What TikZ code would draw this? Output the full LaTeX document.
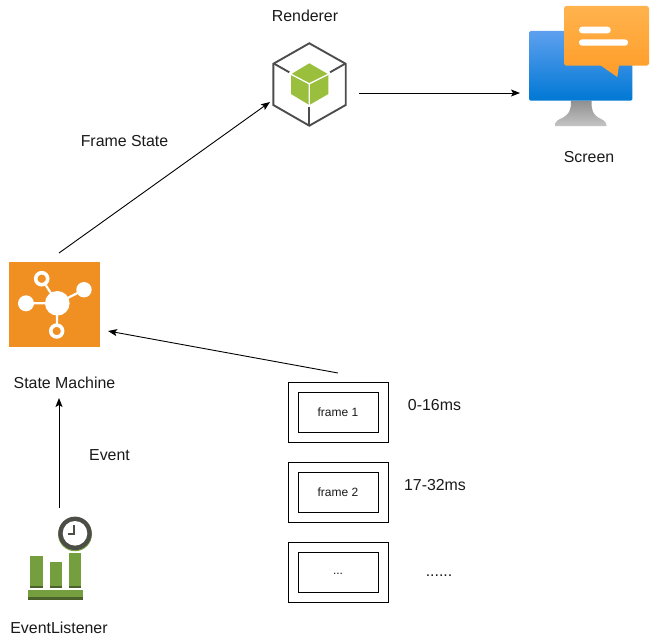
\documentclass[tikz,border=0pt]{standalone}
\usepackage{fontspec}
\setmainfont{Liberation Sans}
\usetikzlibrary{arrows.meta}
\definecolor{hexgray}{HTML}{4D4D4D}
\definecolor{cubegreen}{HTML}{9ABF3C}
\definecolor{statorange}{HTML}{F09022}
\definecolor{barlight}{HTML}{759E3F}
\definecolor{bardark}{HTML}{4B612C}
\definecolor{clockgray}{HTML}{4D4D47}
\definecolor{montop}{HTML}{5EA0EF}
\definecolor{monbot}{HTML}{0078D4}
\definecolor{bubtop}{HTML}{FFB34D}
\definecolor{bubbot}{HTML}{FFA02E}
\definecolor{standtop}{HTML}{8F8F8F}
\definecolor{standbot}{HTML}{C4C4C4}
\definecolor{inktext}{HTML}{1A1A1A}
\tikzset{
  x=1pt,y=-1pt,
  conn/.style={draw=black,line width=0.9pt,-{Stealth[length=9pt,width=7pt,inset=2pt]}},
  textlbl/.style={font=\fontsize{15.9}{18}\selectfont,inner sep=0pt,text=inktext},
  outerbox/.style={draw=black,line width=1pt,minimum width=100pt,minimum height=60pt,inner sep=0pt},
  innerbox/.style={draw=black,line width=1pt,minimum width=80pt,minimum height=40pt,inner sep=0pt,font=\fontsize{12}{14}\selectfont,text=inktext},
  iconbox/.style={inner sep=0pt},
  hexline/.style={draw=hexgray,line width=1.9pt,line join=miter},
}
\begin{document}
\begin{tikzpicture}
\useasboundingbox (0,0) rectangle (650,642);
\fill[white] (0,0) rectangle (650,642);

% Renderer icon
\node[iconbox,minimum width=72.4pt,minimum height=82.4pt] (renderer) at (309.5,84.5) {};
\draw[hexline] (309.3,43.3) -- (345.7,63.8) -- (345.7,105) -- (309.3,125.7) -- (273.3,105) -- (273.3,63.8) -- cycle;
\draw[hexline] (274.3,63.8) -- (289.3,72.3);
\draw[hexline] (345,63.8) -- (330,72.3);
\draw[hexline] (309.3,107.3) -- (309.3,125);
\fill[cubegreen] (309.3,63.3) -- (328.3,74.3) -- (328.3,94) -- (309.3,105) -- (291,94) -- (291,74.3) -- cycle;
\draw[white,line width=1.3pt] (291,74.3) -- (309.3,83.8) -- (328.3,74.3) (309.3,83.8) -- (309.3,105);

% Screen icon
\node[iconbox,minimum width=120pt,minimum height=120pt] (screen) at (589,66) {};
\shade[top color=standtop,bottom color=standbot] (571,100.7) .. controls (571.5,108) and (570,115) .. (560,119) .. controls (556,121) and (555,123) .. (555,126) -- (606.7,126) .. controls (606.7,123) and (605,121) .. (601,119) .. controls (592,115) and (591,108) .. (591.7,100.7) -- cycle;
\shade[top color=montop,bottom color=monbot,rounded corners=1.5pt] (529,31) rectangle (632.3,100.7);
\shade[top color=bubtop,bottom color=bubbot,rounded corners=2.5pt] (564,6) rectangle (649,65.7);
\fill[bubbot] (600,65) -- (617.3,77) -- (619,65) -- cycle;
\fill[white,rounded corners=3pt] (579,26.7) rectangle (610.7,33.3);
\fill[white,rounded corners=3pt] (579,39.3) rectangle (628,45.7);

% State Machine icon
\node[iconbox,fill=statorange,minimum width=91pt,minimum height=84.7pt] (state) at (54.8,304.7) {};
\draw[white,line width=2.2pt] (57.3,303.3) -- (26,303.3) (57.3,303.3) -- (84,289.7) (57.3,303.3) -- (41.7,278.7) (57.3,303.3) -- (56.7,331);
\fill[white] (57.3,303.3) circle[radius=12.3pt];
\fill[white] (26,303.3) circle[radius=8pt];
\fill[white] (84,289.7) circle[radius=7.7pt];
\draw[white,fill=statorange,line width=3.6pt] (41.7,278.7) circle[radius=6pt];
\draw[white,fill=statorange,line width=3.6pt] (56.7,331) circle[radius=5.9pt];

% EventListener icon
\node[iconbox,minimum width=55pt,minimum height=83pt] (listener) at (55.8,558) {};
\fill[barlight] (30.3,556) rectangle (42.7,588.3);
\fill[barlight] (49.7,561.7) rectangle (62,588.3);
\fill[barlight] (69,552.7) rectangle (81,588.3);
\fill[bardark] (30.3,585.7) rectangle (42.7,588.3);
\fill[bardark] (49.7,585.7) rectangle (62,588.3);
\fill[bardark] (69,585.7) rectangle (81,588.3);
\fill[barlight] (28.3,590) rectangle (83.3,597);
\fill[bardark] (28.3,596.5) rectangle (83.3,600);
\fill[white] (75,534.5) circle[radius=17.5pt];
\fill[barlight] (75,534.3) circle[radius=16.9pt];
\fill[clockgray] (75,533.3) circle[radius=16.7pt];
\fill[white] (75,533.3) circle[radius=12.3pt];
\draw[clockgray,line width=2pt] (74.3,525) -- (74.3,534) -- (68.3,534);

% Frame boxes
\node[outerbox] (outer1) at (338,412.5) {};
\node[innerbox] (frame1) at (338,412.5) {frame 1};
\node[outerbox] (outer2) at (338,492.5) {};
\node[innerbox] (frame2) at (338,492.5) {frame 2};
\node[outerbox] (outer3) at (338,572.5) {};
\node[innerbox] (frame3) at (338,572.5) {\raisebox{-3pt}{...}};

% Labels
\node[textlbl] (lrenderer) at (305,16) {Renderer};
\node[textlbl] (lscreen) at (589,157) {Screen};
\node[textlbl] (lframe) at (124.5,141) {Frame State};
\node[textlbl] (lstate) at (64.5,382.5) {State Machine};
\node[textlbl] (levent) at (109.5,455.5) {Event};
\node[textlbl] (llistener) at (59,627.5) {EventListener};
\node[textlbl] (lt1) at (434.5,405) {0-16ms};
\node[textlbl] (lt2) at (435,485) {17-32ms};
\node[textlbl] (lt3) at (439,576) {......};

% Connector ends
\coordinate (a1s) at (59,253);
\coordinate (a1e) at (270,102);
\coordinate (a2s) at (359,93);
\coordinate (a2e) at (520,93);
\coordinate (a3s) at (338,373);
\coordinate (a3e) at (108,331);
\coordinate (a4s) at (59,508);
\coordinate (a4e) at (59,398);
\draw[conn] (a1s) -- (a1e);
\draw[conn] (a2s) -- (a2e);
\draw[conn] (a3s) -- (a3e);
\draw[conn] (a4s) -- (a4e);
\end{tikzpicture}
\end{document}
